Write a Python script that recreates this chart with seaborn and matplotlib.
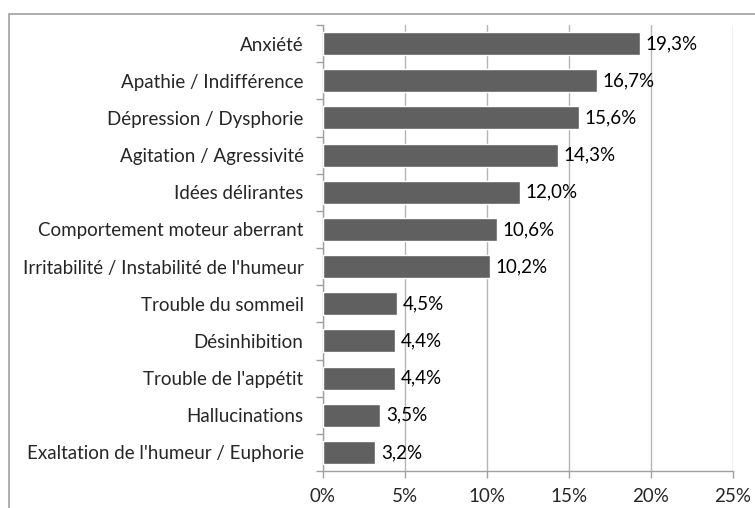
import numpy as np
import pandas as pd
import matplotlib
matplotlib.use("Agg")
import matplotlib.pyplot as plt
import seaborn as sns
from matplotlib.patches import Rectangle

# Data
symptoms = [
    "Anxiété",
    "Apathie / Indifférence",
    "Dépression / Dysphorie",
    "Agitation / Agressivité",
    "Idées délirantes",
    "Comportement moteur aberrant",
    "Irritabilité / Instabilité de l'humeur",
    "Trouble du sommeil",
    "Désinhibition",
    "Trouble de l'appétit",
    "Hallucinations",
    "Exaltation de l'humeur / Euphorie",
]
percents = [19.3, 16.7, 15.6, 14.3, 12.0, 10.6, 10.2, 4.5, 4.4, 4.4, 3.5, 3.2]
x_ticks = [0, 5, 10, 15, 20, 25]

df = pd.DataFrame({"symptome": symptoms, "pct": percents})

sns.set_style("white")
plt.rcParams["font.family"] = ["Lato", "DejaVu Sans"]
fs = 13.5

fig = plt.figure(figsize=(7.55, 5.08), dpi=100)
ax = fig.add_axes([323 / 755, 1 - 471 / 508, 410 / 755, 446 / 508])

sns.barplot(data=df, x="pct", y="symptome", orient="h", color="#606060",
            saturation=1, width=0.62, ax=ax, zorder=3)

# value labels, French decimal comma
labels = [f"{v:.1f}%".replace(".", ",") for v in percents]
ax.bar_label(ax.containers[0], labels=labels, padding=4, fontsize=fs, color="black")

ax.set_xlim(0, 25)
ax.set_ylim(len(symptoms) - 0.5, -0.5)
ax.set_xticks(x_ticks)
ax.set_xticklabels([f"{t}%" for t in x_ticks], fontsize=fs)
ax.tick_params(axis="y", labelsize=fs, length=0, pad=14)
ax.set_yticks(np.arange(-0.5, len(symptoms)), minor=True)
ax.tick_params(axis="y", which="minor", left=True, length=5, width=1,
               color="#a0a0a0", direction="out")
ax.tick_params(axis="x", bottom=True, length=5, width=1, color="#a0a0a0",
               direction="out", pad=7)
ax.set_xlabel("")
ax.set_ylabel("")

ax.grid(axis="x", color="#b4b4b4", linewidth=1, zorder=0)
ax.grid(axis="y", visible=False)
for s in ["top", "right"]:
    ax.spines[s].set_visible(False)
for s in ["left", "bottom"]:
    ax.spines[s].set_color("#a0a0a0")
    ax.spines[s].set_linewidth(1)

# outer chart frame (cropped at right and bottom)
fig.patches.append(Rectangle((9 / 755, -0.1), 1.2, 1 - 14 / 508 + 0.1,
                             transform=fig.transFigure, fill=False,
                             edgecolor="#a0a0a0", linewidth=1.2))

fig.savefig("out.png", dpi=100)
